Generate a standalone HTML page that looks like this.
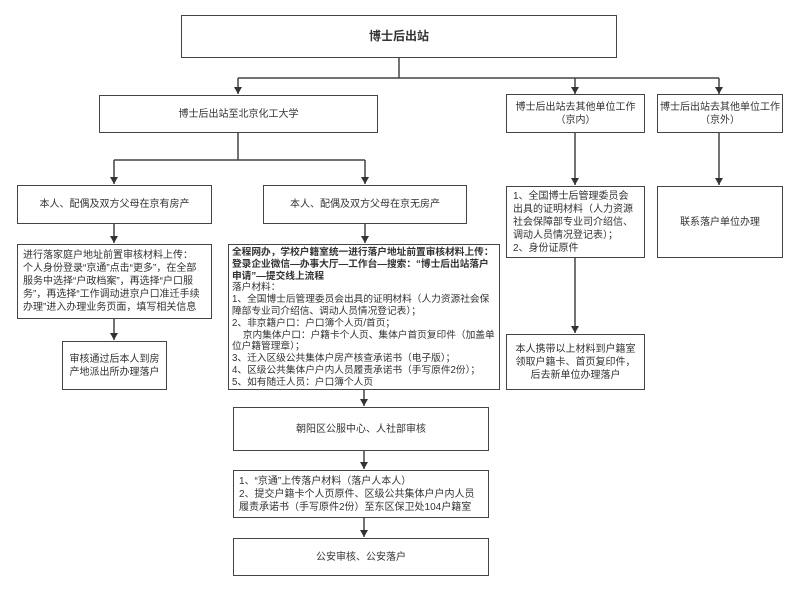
<!DOCTYPE html>
<html><head><meta charset="utf-8"><style>
body{margin:0;width:799px;height:594px;background:#fff;position:relative;overflow:hidden;font-family:"Liberation Sans","Noto Sans CJK SC",sans-serif;color:#333}
.b{position:absolute;box-sizing:border-box;border:1.5px solid #444;background:#fff;display:flex;align-items:center;justify-content:center;text-align:center;font-size:10px;line-height:13px}
.l{justify-content:flex-start;text-align:left;padding:0 6px}
svg{position:absolute;left:0;top:0}
</style></head><body>
<svg width="799" height="594">
<defs><marker id="a" markerWidth="7" markerHeight="8" refX="7" refY="4" orient="auto" markerUnits="userSpaceOnUse"><path d="M0,0 L7,4 L0,8z" fill="#333"/></marker></defs>
<g stroke="#444" stroke-width="1.5" fill="none">
<line x1="399" y1="58" x2="399" y2="78"/>
<line x1="238" y1="78" x2="719" y2="78"/>
<line x1="238" y1="78" x2="238" y2="94" marker-end="url(#a)"/>
<line x1="575" y1="78" x2="575" y2="94" marker-end="url(#a)"/>
<line x1="719" y1="78" x2="719" y2="94" marker-end="url(#a)"/>
<line x1="238" y1="133" x2="238" y2="160"/>
<line x1="114" y1="160" x2="365" y2="160"/>
<line x1="114" y1="160" x2="114" y2="184" marker-end="url(#a)"/>
<line x1="365" y1="160" x2="365" y2="184" marker-end="url(#a)"/>
<line x1="114" y1="224" x2="114" y2="243" marker-end="url(#a)"/>
<line x1="114" y1="319" x2="114" y2="340" marker-end="url(#a)"/>
<line x1="365" y1="224" x2="365" y2="243" marker-end="url(#a)"/>
<line x1="364" y1="390" x2="364" y2="406" marker-end="url(#a)"/>
<line x1="364" y1="451" x2="364" y2="469" marker-end="url(#a)"/>
<line x1="364" y1="518" x2="364" y2="537" marker-end="url(#a)"/>
<line x1="575" y1="133" x2="575" y2="185" marker-end="url(#a)"/>
<line x1="575" y1="258" x2="575" y2="333" marker-end="url(#a)"/>
<line x1="719" y1="133" x2="719" y2="185" marker-end="url(#a)"/>
</g></svg>
<div class="b" style="left:181px;top:15px;width:436px;height:43px;font-weight:bold;font-size:12px">博士后出站</div>
<div class="b" style="left:99px;top:95px;width:279px;height:38px">博士后出站至北京化工大学</div>
<div class="b" style="left:506px;top:94px;width:139px;height:39px">博士后出站去其他单位工作<br>（京内）</div>
<div class="b" style="left:657px;top:94px;width:126px;height:39px">博士后出站去其他单位工作<br>（京外）</div>
<div class="b" style="left:17px;top:185px;width:195px;height:39px">本人、配偶及双方父母在京有房产</div>
<div class="b" style="left:263px;top:185px;width:204px;height:39px">本人、配偶及双方父母在京无房产</div>
<div class="b l" style="left:17px;top:244px;width:195px;height:75px;padding:0 5px">进行落家庭户地址前置审核材料上传：<br>个人身份登录“京通”点击“更多”，在全部服务中选择“户政档案”，再选择“户口服务”，再选择“工作调动进京户口准迁手续办理”进入办理业务页面，填写相关信息</div>
<div class="b" style="left:62px;top:341px;width:105px;height:49px">审核通过后本人到房<br>产地派出所办理落户</div>
<div class="b l" style="left:228px;top:244px;width:272px;height:146px;font-size:9.7px;line-height:11.8px;padding:0 3px;display:block;padding-top:2px"><b>全程网办，学校户籍室统一进行落户地址前置审核材料上传：登录企业微信—办事大厅—工作台—搜索：“博士后出站落户申请”—提交线上流程</b><br>落户材料：<br>1、全国博士后管理委员会出具的证明材料（人力资源社会保障部专业司介绍信、调动人员情况登记表）；<br>2、非京籍户口：户口簿个人页/首页；<br>&nbsp;&nbsp;&nbsp;&nbsp;京内集体户口：户籍卡个人页、集体户首页复印件（加盖单位户籍管理章）；<br>3、迁入区级公共集体户房产核查承诺书（电子版）；<br>4、区级公共集体户户内人员履责承诺书（手写原件2份）；<br>5、如有随迁人员：户口簿个人页</div>
<div class="b" style="left:233px;top:407px;width:256px;height:44px">朝阳区公服中心、人社部审核</div>
<div class="b l" style="left:233px;top:470px;width:256px;height:48px;padding:0 5px">1、“京通”上传落户材料（落户人本人）<br>2、提交户籍卡个人页原件、区级公共集体户户内人员履责承诺书（手写原件2份）至东区保卫处104户籍室</div>
<div class="b" style="left:233px;top:538px;width:256px;height:38px">公安审核、公安落户</div>
<div class="b l" style="left:506px;top:186px;width:139px;height:72px;padding:0 6px">1、全国博士后管理委员会出具的证明材料（人力资源社会保障部专业司介绍信、调动人员情况登记表）；<br>2、身份证原件</div>
<div class="b" style="left:657px;top:186px;width:126px;height:72px">联系落户单位办理</div>
<div class="b" style="left:506px;top:334px;width:139px;height:56px;padding:0 6px">本人携带以上材料到户籍室领取户籍卡、首页复印件，后去新单位办理落户</div>
</body></html>
